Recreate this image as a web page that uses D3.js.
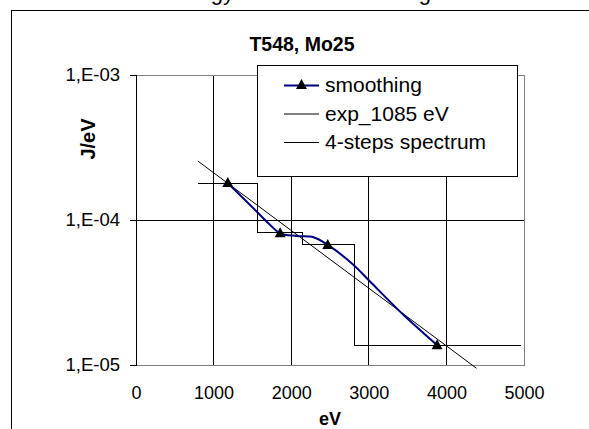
<!DOCTYPE html>
<html>
<head>
<meta charset="utf-8">
<script src="https://cdn.jsdelivr.net/npm/d3@7"></script>
<style>
  body { margin: 0; background: #fff; }
  svg { display: block; font-family: "Liberation Sans", Arial, sans-serif; }
</style>
</head>
<body>
<div id="chart"></div>
<script>
// Data
const xTicks = [0, 1000, 2000, 3000, 4000, 5000];
const yTicks = [1e-5, 1e-4, 1e-3];
const yTickLabels = ['1,E-05', '1,E-04', '1,E-03'];

// smoothed curve (blue) and its markers
const smoothX = [1183, 1557, 1729, 1858, 2074, 2288, 2471, 2804, 3019, 3449, 3880];
const smoothY = [1.80e-4, 1.14e-4, 9.24e-5, 8.09e-5, 7.76e-5, 7.60e-5, 6.73e-5, 4.90e-5, 3.75e-5, 2.21e-5, 1.37e-5];
const markerX = [1183, 1858, 2471, 3880];
const markerY = [1.80e-4, 8.09e-5, 6.73e-5, 1.37e-5];

// exp_1085 eV line end points
const expX = [797, 4387];
const expY = [2.55e-4, 9.5e-6];

// 4-steps spectrum: edges and levels
const stepEdges = [800, 1565, 2150, 2812, 4955];
const stepLevels = [1.79e-4, 8.25e-5, 6.8e-5, 1.36e-5];

const legendItems = ['smoothing', 'exp_1085 eV', '4-steps spectrum'];

const W = 589, H = 429;
const plot = { left: 136, right: 524, top: 75, bottom: 365 };

const svg = d3.select('#chart').append('svg')
  .attr('width', W).attr('height', H);

// outer chart frame (extends past the window)
svg.append('rect')
  .attr('x', 11.5).attr('y', 10.5)
  .attr('width', 700).attr('height', 600)
  .attr('fill', '#fff').attr('stroke', '#000').attr('stroke-width', 1);

// caption text cut off above the frame
svg.append('text').attr('x', 234).attr('y', 0).attr('text-anchor', 'end')
  .style('font-size', '22px').text('Energy');
svg.append('text').attr('x', 431).attr('y', 0).attr('text-anchor', 'end')
  .style('font-size', '22px').text('smoothing');

const x = d3.scaleLinear().domain([0, 5000]).range([plot.left, plot.right]);
const y = d3.scaleLog().domain([1e-5, 1e-3]).range([plot.bottom, plot.top]);

// Title
svg.append('text')
  .attr('x', 302).attr('y', 50.5)
  .attr('text-anchor', 'middle')
  .style('font-size', '19.5px').style('font-weight', 'bold')
  .text('T548, Mo25');

// Grid
const grid = svg.append('g').attr('shape-rendering', 'crispEdges');
grid.selectAll('.vgrid')
  .data(xTicks.filter(d => d > 0 && d < 5000))
  .enter().append('line')
  .attr('x1', d => x(d)).attr('x2', d => x(d))
  .attr('y1', plot.top).attr('y2', plot.bottom)
  .attr('stroke', '#000');
grid.selectAll('.hgrid')
  .data(yTicks.filter(d => d > 1e-5 && d < 1e-3))
  .enter().append('line')
  .attr('x1', plot.left).attr('x2', plot.right)
  .attr('y1', d => y(d)).attr('y2', d => y(d))
  .attr('stroke', '#000');

// plot area border
svg.append('rect')
  .attr('x', plot.left).attr('y', plot.top)
  .attr('width', plot.right - plot.left).attr('height', plot.bottom - plot.top)
  .attr('fill', 'none').attr('stroke', '#808080')
  .attr('shape-rendering', 'crispEdges');

// Y axis
svg.append('g')
  .attr('transform', `translate(${plot.left},0)`)
  .attr('shape-rendering', 'crispEdges')
  .call(d3.axisLeft(y).tickValues(yTicks).tickSize(6).tickPadding(10)
    .tickFormat((d, i) => yTickLabels[i]))
  .call(g => g.select('.domain').attr('stroke', '#000'))
  .call(g => g.selectAll('text')
    .style('font-size', '18.5px').style('font-family', '"Liberation Sans", Arial, sans-serif')
    .attr('fill', '#000'));

// X axis
svg.append('g')
  .attr('transform', `translate(0,${plot.bottom})`)
  .call(d3.axisBottom(x).tickValues(xTicks).tickSize(0).tickPadding(0)
    .tickFormat(d3.format('d')))
  .call(g => g.select('.domain').remove())
  .call(g => g.selectAll('text')
    .attr('y', 34).attr('dy', null)
    .style('font-size', '18px').style('font-family', '"Liberation Sans", Arial, sans-serif')
    .attr('fill', '#000'));

// Axis titles
svg.append('text')
  .attr('x', 330).attr('y', 424.5)
  .attr('text-anchor', 'middle')
  .style('font-size', '18px').style('font-weight', 'bold')
  .text('eV');
svg.append('text')
  .attr('transform', 'translate(95,139) rotate(-90)')
  .attr('text-anchor', 'middle')
  .style('font-size', '20px').style('font-weight', 'bold')
  .text('J/eV');

// exp line
svg.append('path')
  .datum(expX.map((d, i) => [d, expY[i]]))
  .attr('fill', 'none').attr('stroke', '#000').attr('stroke-width', 1)
  .attr('d', d3.line().x(d => x(d[0])).y(d => y(d[1])));

// step spectrum
const stepPts = stepEdges.map((d, i) => [d, stepLevels[Math.min(i, stepLevels.length - 1)]]);
svg.append('path')
  .datum(stepPts)
  .attr('fill', 'none').attr('stroke', '#000').attr('stroke-width', 1)
  .attr('shape-rendering', 'crispEdges')
  .attr('d', d3.line().curve(d3.curveStepAfter).x(d => x(d[0])).y(d => y(d[1])));

// smoothing curve
svg.append('path')
  .datum(smoothX.map((d, i) => [d, smoothY[i]]))
  .attr('fill', 'none').attr('stroke', '#000080').attr('stroke-width', 2)
  .attr('d', d3.line().curve(d3.curveCatmullRom.alpha(0.5)).x(d => x(d[0])).y(d => y(d[1])));

const tri = (cx, cy) => `M${cx},${cy - 6}L${cx + 5.5},${cy + 4}L${cx - 5.5},${cy + 4}Z`;
svg.selectAll('.marker')
  .data(markerX.map((d, i) => [d, markerY[i]]))
  .enter().append('path')
  .attr('d', d => tri(x(d[0]), y(d[1])))
  .attr('fill', '#000');

// Legend
const lg = svg.append('g');
lg.append('rect')
  .attr('x', 257.5).attr('y', 65.5).attr('width', 260).attr('height', 111)
  .attr('fill', '#fff').attr('stroke', '#000')
  .attr('shape-rendering', 'crispEdges');
const rowY = [85, 113.5, 142];
legendItems.forEach((name, i) => {
  lg.append('line')
    .attr('x1', 284).attr('x2', 319).attr('y1', rowY[i] + 0.5).attr('y2', rowY[i] + 0.5)
    .attr('stroke', i === 0 ? '#000080' : '#000').attr('stroke-width', i === 0 ? 2 : 1);
  if (i === 0) lg.append('path').attr('d', tri(301.5, rowY[i])).attr('fill', '#000');
  lg.append('text')
    .attr('x', 325).attr('y', rowY[i]).attr('dy', '0.35em')
    .style('font-size', '21px')
    .text(name);
});
</script>
</body>
</html>
